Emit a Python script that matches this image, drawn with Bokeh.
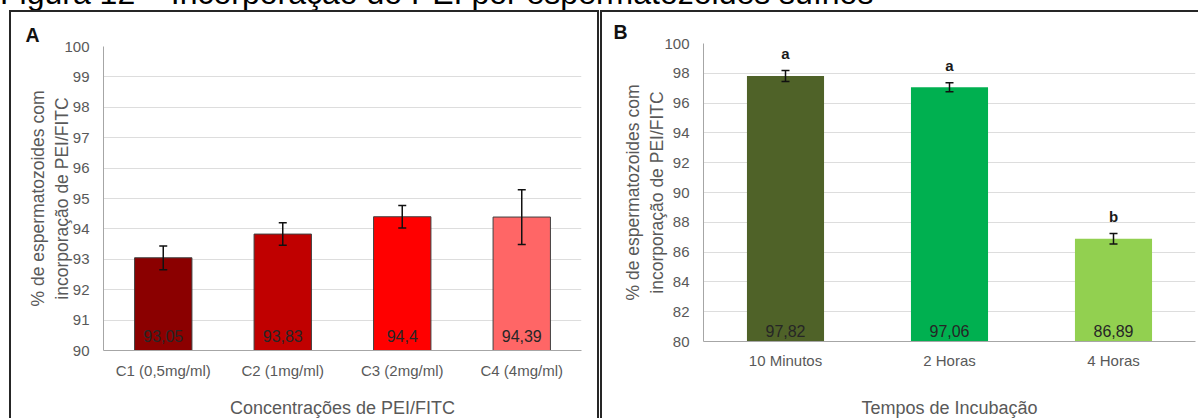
from bokeh.plotting import figure
from bokeh.models import (ColumnDataSource, Whisker, TeeHead, Div, Spacer,
                          Range1d, FactorRange, SingleIntervalTicker)
from bokeh.layouts import row, column
from bokeh.embed import file_html
from bokeh.resources import INLINE
from bokeh.core.properties import value

# ---------------- data ----------------
title_text = "Figura 12 – Incorporação do PEI por espermatozoides suínos"
y_title = "% de espermatozoides com\nincorporação de PEI/FITC"

# Panel A
conc_labels = ["C1 (0,5mg/ml)", "C2 (1mg/ml)", "C3 (2mg/ml)", "C4 (4mg/ml)"]
conc_values = [93.05, 93.83, 94.4, 94.39]
conc_errors = [0.39, 0.37, 0.37, 0.90]
conc_colors = ["#8B0000", "#C00000", "#FF0000", "#FF6666"]
conc_axis_title = "Concentrações de PEI/FITC"
conc_ylim = (90, 100)

# Panel B
time_labels = ["10 Minutos", "2 Horas", "4 Horas"]
time_values = [97.82, 97.06, 86.89]
time_errors = [0.37, 0.30, 0.35]
time_letters = ["a", "a", "b"]
time_colors = ["#4F6228", "#00B050", "#92D050"]
time_axis_title = "Tempos de Incubação"
time_ylim = (80, 100)

FONT = "Liberation Sans"
AXIS_GRAY = "#A6A6A6"
TEXT_GRAY = "#595959"
BORDER = "2px solid #262626"


def fmt(v):
    return str(v).replace(".", ",")


def make_panel(cats, vals, errs, colors, ylim, interval, xtitle, letter, letter_off,
               width, height, borders, bar_width, bar_line, label_off,
               x_std, xlab_std, y_std, ylab_std, styles):
    src = ColumnDataSource(dict(
        cat=cats, val=vals, base=[ylim[0]] * len(cats),
        upper=[v + e for v, e in zip(vals, errs)],
        lower=[v - e for v, e in zip(vals, errs)],
        color=colors, label=[fmt(v) for v in vals],
    ))
    p = figure(x_range=FactorRange(*cats), y_range=Range1d(*ylim),
               width=width, height=height, output_backend="svg",
               toolbar_location=None,
               min_border_left=borders[0], min_border_right=borders[1],
               min_border_top=borders[2], min_border_bottom=borders[3],
               styles=styles)
    p.outline_line_color = None
    p.background_fill_color = "white"
    p.border_fill_color = "white"

    # panel letter as the plot title
    p.title.text = letter
    p.title.align = "left"
    p.title.offset = letter_off
    p.title.standoff = 1
    p.title.text_font = FONT
    p.title.text_font_style = "bold"
    p.title.text_font_size = "19.5px"
    p.title.text_color = "#111111"

    p.vbar(x="cat", top="val", bottom="base", width=bar_width, source=src,
           fill_color="color", line_color=bar_line, line_width=1)

    w = Whisker(source=src, base="cat", upper="upper", lower="lower",
                line_color="#111111", line_width=1.5, level="overlay",
                upper_head=TeeHead(size=8, line_color="#111111", line_width=1.5),
                lower_head=TeeHead(size=8, line_color="#111111", line_width=1.5))
    p.add_layout(w)

    p.text(x="cat", y="base", text="label", source=src, y_offset=-label_off,
           text_align="center", text_baseline="middle",
           text_font=value(FONT), text_font_size="16px", text_color="#262626")

    # axes
    p.yaxis.ticker = SingleIntervalTicker(interval=interval)
    p.ygrid.ticker = SingleIntervalTicker(interval=interval)
    p.xgrid.visible = False
    p.ygrid.grid_line_color = "#DDDDDD"
    p.ygrid.grid_line_width = 1
    for ax in (p.xaxis[0], p.yaxis[0]):
        ax.axis_line_color = AXIS_GRAY
        ax.axis_line_width = 1
        ax.major_tick_line_color = None
        ax.minor_tick_line_color = None
        ax.major_label_text_font = FONT
        ax.major_label_text_font_size = "15px"
        ax.major_label_text_color = TEXT_GRAY
        ax.axis_label_text_font = FONT
        ax.axis_label_text_font_style = "normal"
        ax.axis_label_text_color = TEXT_GRAY
    p.yaxis.major_label_standoff = y_std
    p.xaxis.major_label_standoff = x_std
    p.yaxis.axis_label = y_title
    p.yaxis.axis_label_text_font_size = "17.5px"
    p.yaxis.axis_label_standoff = ylab_std
    p.xaxis.axis_label = xtitle
    p.xaxis.axis_label_text_font_size = "18px"
    p.xaxis.axis_label_text_line_height = 1.0
    p.xaxis.axis_label_standoff = xlab_std
    return p, src


stylesA = {"border-left": BORDER, "border-top": BORDER, "border-right": BORDER,
           "box-sizing": "content-box"}
stylesB = {"border-left": BORDER, "border-top": BORDER, "box-sizing": "content-box"}

pA, srcA = make_panel(conc_labels, conc_values, conc_errors, conc_colors, conc_ylim, 1,
                      conc_axis_title, "A", -78, 586, 406, (92, 20, 34, 68), 0.48, "#404040", 15,
                      5, 16, 8, -11, stylesA)

pB, srcB = make_panel(time_labels, time_values, time_errors, time_colors, time_ylim, 2,
                      time_axis_title, "B", -90, 596, 406, (101, 5, 31, 77), 0.47, None, 11,
                      4, 26, 8, -6, stylesB)

srcB.data["letter"] = time_letters
pB.text(x="cat", y="upper", text="letter", source=srcB, y_offset=-17,
        text_align="center", text_baseline="middle", text_font=value(FONT),
        text_font_size="15px", text_font_style="bold", text_color="#1a1a1a")

title = Div(text=('<div style="position:absolute; left:0px; top:-23px; white-space:nowrap; '
                  "font-family:'Liberation Sans', Arial, sans-serif; font-size:32px; "
                  'line-height:32px; color:#000;">' + title_text + '</div>'),
            width=1198, height=10,
            styles={"overflow": "visible", "height": "10px", "margin": "0", "padding": "0"})

layout = column(title, row(Spacer(width=9, height=408), column(pA),
                           Spacer(width=1, height=408), column(pB)))

open("out.html", "w").write(file_html(layout, INLINE))
